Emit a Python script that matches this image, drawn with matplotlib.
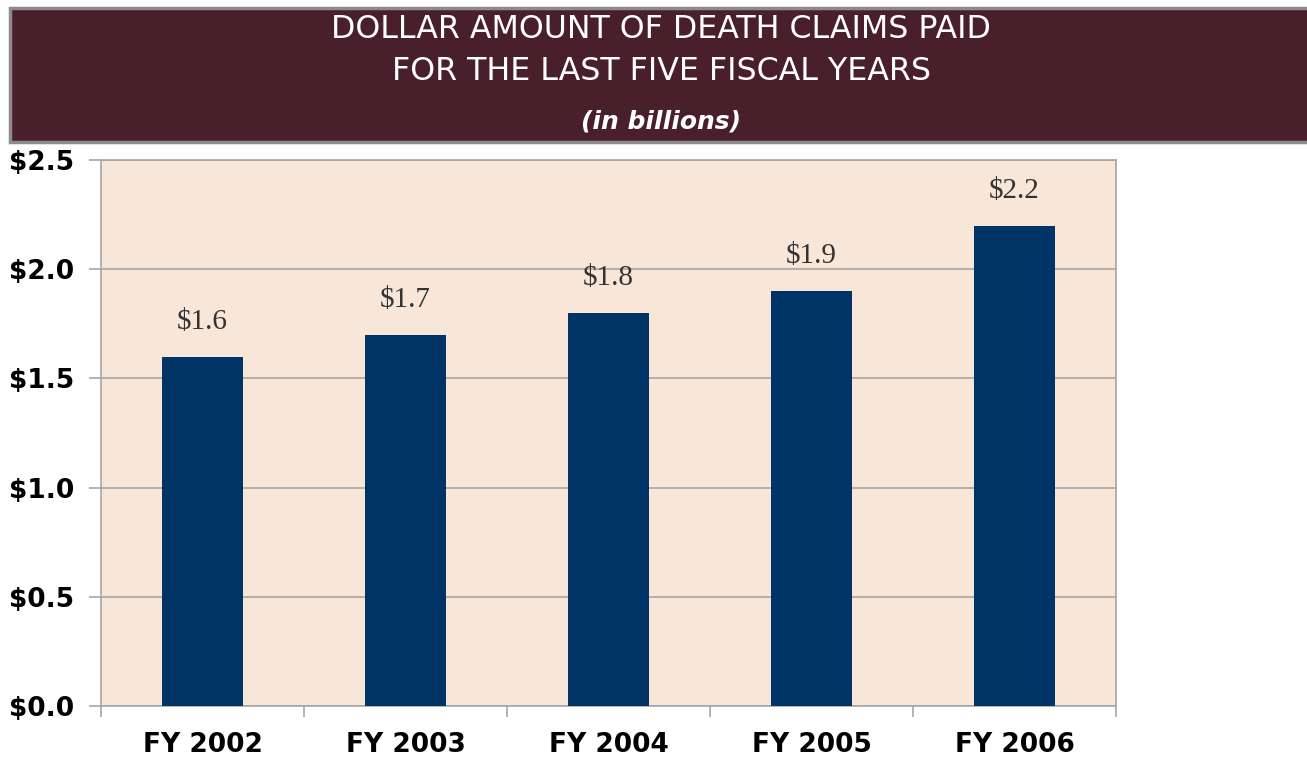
import matplotlib
matplotlib.use("Agg")
import matplotlib.pyplot as plt
from matplotlib.patches import Rectangle
import numpy as np

categories = ["FY 2002", "FY 2003", "FY 2004", "FY 2005", "FY 2006"]
values = [1.6, 1.7, 1.8, 1.9, 2.2]
value_labels = ["$1.6", "$1.7", "$1.8", "$1.9", "$2.2"]
yticks = [0.0, 0.5, 1.0, 1.5, 2.0, 2.5]
ytick_labels = ["$0.0", "$0.5", "$1.0", "$1.5", "$2.0", "$2.5"]

W, H = 1307, 758
fig = plt.figure(figsize=(W / 100, H / 100), dpi=100)
fig.patch.set_facecolor("white")

# Title box
box = Rectangle((10 / W, 1 - 142 / H), 1.2, 134 / H, transform=fig.transFigure,
                facecolor="#4A1F2C", edgecolor="#8C8C8C", linewidth=2.5, zorder=0)
fig.patches.append(box)
fig.text(661 / W, 1 - 30 / H, "DOLLAR AMOUNT OF DEATH CLAIMS PAID", color="white",
         fontsize=22.8, ha="center", va="center", family="DejaVu Sans")
fig.text(661 / W, 1 - 72 / H, "FOR THE LAST FIVE FISCAL YEARS", color="white",
         fontsize=22.8, ha="center", va="center", family="DejaVu Sans")
fig.text(661 / W, 1 - 122 / H, "(in billions)", color="white", fontsize=18,
         fontweight="bold", fontstyle="italic", ha="center", va="center", family="DejaVu Sans")

ax = fig.add_axes([101 / W, 52 / H, (1116 - 101) / W, (706 - 160) / H])
ax.set_facecolor("#F8E7D8")
x = np.arange(len(categories))
ax.bar(x, values, width=0.4, color="#003366", zorder=3)
ax.set_xlim(-0.5, len(categories) - 0.5)
ax.set_ylim(0, 2.5)
ax.set_yticks(yticks)
ax.set_yticklabels(ytick_labels, fontsize=19, fontweight="bold", family="DejaVu Sans")
ax.yaxis.grid(True, color="#A6A6A6", linewidth=1.2, zorder=1)
ax.set_axisbelow(True)
ax.set_xticks(x)
ax.set_xticklabels(categories, fontsize=19, fontweight="bold", family="DejaVu Sans")
ax.set_xticks(np.arange(-0.5, len(categories), 1.0), minor=True)
ax.tick_params(axis="x", which="major", length=0, pad=19)
ax.tick_params(axis="x", which="minor", length=8, color="#A6A6A6", width=1.2)
ax.tick_params(axis="y", length=9, color="#A6A6A6", width=1.2, pad=10)
for s in ax.spines.values():
    s.set_color("#A6A6A6")
    s.set_linewidth(1.2)

for xi, v, lab in zip(x, values, value_labels):
    ax.annotate(lab, (xi, v), xytext=(0, 25), textcoords="offset points",
                ha="center", va="center", fontsize=21, color="#333333",
                family="Liberation Serif")

fig.savefig("out.png", dpi=100, facecolor="white")
